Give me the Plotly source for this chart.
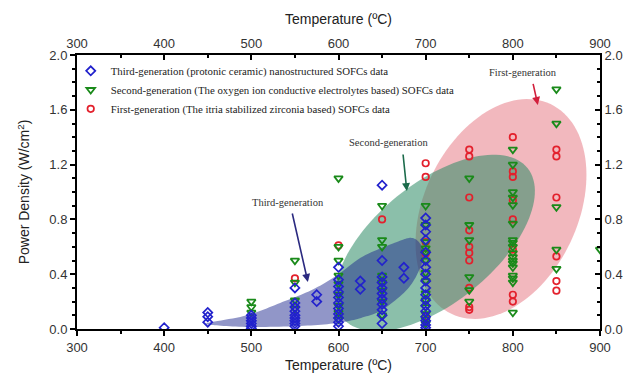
import numpy as np
import plotly.graph_objects as go

# ---------------- data (temperature °C -> power densities W/cm2) ----------------
third_gen = {
    400: [0.01],
    450: [0.05, 0.09, 0.12],
    500: [0.005, 0.02, 0.04, 0.06, 0.08, 0.10],
    550: [0.02, 0.04, 0.06, 0.08, 0.10, 0.13, 0.16, 0.19, 0.30],
    575: [0.20, 0.25],
    600: [0.02, 0.05, 0.08, 0.11, 0.15, 0.19, 0.23, 0.27, 0.31, 0.36, 0.45],
    625: [0.29, 0.35],
    650: [0.04, 0.10, 0.14, 0.18, 0.22, 0.26, 0.30, 0.34, 0.38, 0.50, 1.05],
    675: [0.37, 0.45],
    700: [0.01, 0.03, 0.06, 0.09, 0.13, 0.17, 0.21, 0.25, 0.30, 0.35, 0.40,
          0.45, 0.50, 0.56, 0.65, 0.71, 0.76, 0.81],
}
second_gen = {
    500: [0.12, 0.16, 0.20],
    550: [0.15, 0.21, 0.34, 0.50],
    600: [0.07, 0.12, 0.17, 0.25, 0.33, 0.39, 0.50, 0.60, 1.10],
    650: [0.10, 0.20, 0.28, 0.34, 0.39, 0.60, 0.65, 0.90],
    700: [0.04, 0.07, 0.11, 0.16, 0.21, 0.26, 0.35, 0.41, 0.50, 0.56, 0.59,
          0.635, 0.76, 0.90],
    750: [0.20, 0.285, 0.38, 0.65, 0.76, 1.10],
    800: [0.12, 0.34, 0.37, 0.39, 0.45, 0.48, 0.50, 0.525, 0.555, 0.60, 0.63,
          0.65, 0.77, 0.905, 0.96, 1.00, 1.20, 1.31],
    850: [0.44, 0.58, 0.89, 1.50, 1.75],
    900: [0.58],
}
first_gen = {
    550: [0.37],
    600: [0.61],
    650: [0.80],
    700: [0.09, 0.55, 0.635, 1.11, 1.21],
    750: [0.14, 0.16, 0.30, 0.50, 0.555, 0.60, 0.72, 0.96, 1.26, 1.31],
    800: [0.20, 0.25, 0.58, 0.80, 0.94, 1.11, 1.15, 1.40],
    850: [0.28, 0.35, 0.53, 0.96, 1.26, 1.31],
}

x_ticks = [300, 400, 500, 600, 700, 800, 900]
y_ticks = [0.0, 0.4, 0.8, 1.2, 1.6, 2.0]
y_tick_labels = ["0.0", "0.4", "0.8", "1.2", "1.6", "2.0"]

names = [
    "Third-generation (protonic ceramic) nanostructured SOFCs data",
    "Second-generation (The oxygen ion conductive electrolytes based) SOFCs data",
    "First-generation (The itria stabilized zirconia based) SOFCs data",
]


def flatten(cols):
    xs, ys = [], []
    for t, vals in cols.items():
        xs += [t] * len(vals)
        ys += vals
    return xs, ys


# ---------------- geometry helpers for the highlight regions ----------------
W, H = 632, 380
ML, MR, MT, MB = 77, 32, 55, 51
PW, PH = W - ML - MR, H - MT - MB
XR, YR = (300, 900), (0, 2)
sx = PW / (XR[1] - XR[0])   # px per °C
sy = PH / (YR[1] - YR[0])   # px per W/cm2


def ellipse_path(cx, cy, a_px, b_px, ang_deg, n=120):
    th = np.radians(ang_deg)
    t = np.linspace(0, 2 * np.pi, n, endpoint=False)
    dx = a_px * np.cos(t) * np.cos(th) - b_px * np.sin(t) * np.sin(th)
    dy = a_px * np.cos(t) * np.sin(th) + b_px * np.sin(t) * np.cos(th)
    xs = cx + dx / sx
    ys = cy + dy / sy
    pts = [f"{x:.3f},{y:.4f}" for x, y in zip(xs, ys)]
    return "M " + " L ".join(pts) + " Z"


def smooth_closed_path(pts, n=12):
    pts = np.array(pts, dtype=float)
    m = len(pts)
    out = []
    for i in range(m):
        p0, p1, p2, p3 = pts[(i - 1) % m], pts[i], pts[(i + 1) % m], pts[(i + 2) % m]
        for t in np.linspace(0, 1, n, endpoint=False):
            t2, t3 = t * t, t * t * t
            p = 0.5 * ((2 * p1) + (-p0 + p2) * t + (2 * p0 - 5 * p1 + 4 * p2 - p3) * t2
                       + (-p0 + 3 * p1 - 3 * p2 + p3) * t3)
            out.append(p)
    return "M " + " L ".join(f"{x:.3f},{y:.4f}" for x, y in out) + " Z"


third_region = [(450, 0.044), (495, 0.10), (533, 0.19), (571, 0.29), (600, 0.40),
                (628, 0.53), (667, 0.635), (684, 0.665), (694, 0.62), (697, 0.55),
                (694, 0.45), (679, 0.29), (650, 0.14), (628, 0.085), (600, 0.045),
                (556, 0.022), (498, 0.015), (458, 0.028)]

shapes = [
    dict(type="path", xref="x", yref="y", layer="below", line=dict(width=0),
         fillcolor="rgba(226,98,111,0.45)",
         path=ellipse_path(786.4, 0.876, 116, 77, 64.7)),
    dict(type="path", xref="x", yref="y", layer="below", line=dict(width=0),
         fillcolor="rgba(44,139,100,0.55)",
         path=ellipse_path(710.7, 0.628, 119, 60, 39)),
    dict(type="path", xref="x", yref="y", layer="below", line=dict(width=0),
         fillcolor="rgba(25,35,140,0.48)",
         path=smooth_closed_path(third_region)),
]

fig = go.Figure()

x1, y1 = flatten(first_gen)
x2, y2 = flatten(second_gen)
x3, y3 = flatten(third_gen)

fig.add_trace(go.Scatter(x=x1, y=y1, mode="markers", name=names[2],
                         marker=dict(symbol="circle-open", size=6.5, color="#e3202c",
                                     line=dict(width=1.7, color="#e3202c"))))
fig.add_trace(go.Scatter(x=x2, y=y2, mode="markers", name=names[1],
                         marker=dict(symbol="triangle-down-open", size=7.5, color="#1a8a1a",
                                     line=dict(width=1.8, color="#1a8a1a"))))
fig.add_trace(go.Scatter(x=x3, y=y3, mode="markers", name=names[0],
                         marker=dict(symbol="diamond-open", size=7, color="#2222cc",
                                     line=dict(width=1.7, color="#2222cc"))))
# invisible trace to carry the mirrored top/right axes
fig.add_trace(go.Scatter(x=[300, 900], y=[0, 2], xaxis="x2", yaxis="y2", mode="markers",
                         marker=dict(opacity=0), showlegend=False, hoverinfo="skip"))

serif = "Liberation Serif, Times New Roman, serif"
sans = "Liberation Sans, Arial, sans-serif"

annotations = []
# labels + arrows
arrows = [
    ("Third-generation", 542, 0.92, 546.6, 0.854, 564.9, 0.343, "#2b2a80"),
    ("Second-generation", 657, 1.36, 673.9, 1.285, 678.4, 1.007, "#1b6b4b"),
    ("First-generation", 811.5, 1.87, 822.9, 1.80, 828.7, 1.635, "#d21f3c"),
]
for txt, tx, ty, ax_, ay_, hx, hy, col in arrows:
    annotations.append(dict(x=tx, y=ty, xref="x", yref="y", text=txt, showarrow=False,
                            font=dict(family=serif, size=10.5, color="#333")))
    annotations.append(dict(x=hx, y=hy, ax=ax_, ay=ay_, xref="x", yref="y",
                            axref="x", ayref="y", text="", showarrow=True,
                            arrowhead=2, arrowsize=1, arrowwidth=1.6, arrowcolor=col))

axis_common = dict(showline=True, linewidth=2, linecolor="black", showgrid=False,
                   zeroline=False, tickwidth=1.5, tickcolor="black", automargin=False,
                   tickfont=dict(family=sans, size=13, color="#333"))

title_font = dict(family=sans, size=14, color="#222")

fig.update_layout(
    width=W, height=H,
    margin=dict(l=ML, r=MR, t=MT, b=MB),
    paper_bgcolor="white", plot_bgcolor="white",
    shapes=shapes,
    annotations=annotations,
    showlegend=True,
    legend=dict(x=-0.012, y=0.995, xanchor="left", yanchor="top",
                bgcolor="rgba(0,0,0,0)", traceorder="reversed",
                font=dict(family=serif, size=10.8, color="#222"),
                itemwidth=30, tracegroupgap=0),
    xaxis=dict(range=list(XR), tickvals=x_ticks, ticks="outside", ticklen=5,
               minor=dict(dtick=50, ticks="outside", ticklen=3, tickcolor="black", tickwidth=1.5),
               title=dict(text="Temperature (ºC)", font=title_font, standoff=7),
               **axis_common),
    yaxis=dict(range=list(YR), tickvals=y_ticks, ticktext=y_tick_labels, ticks="outside",
               ticklen=5,
               minor=dict(dtick=0.1, ticks="outside", ticklen=3, tickcolor="black", tickwidth=1.5),
               title=dict(text="Power Density (W/cm<sup>2</sup>)", font=title_font, standoff=16),
               **axis_common),
    xaxis2=dict(range=list(XR), tickvals=x_ticks, overlaying="x", side="top", anchor="y",
                ticks="inside", ticklen=5,
                minor=dict(dtick=50, ticks="inside", ticklen=3, tickcolor="black", tickwidth=1.5),
                title=dict(text="Temperature (ºC)", font=title_font, standoff=8),
                **axis_common),
    yaxis2=dict(range=list(YR), tickvals=y_ticks, ticktext=y_tick_labels, overlaying="y",
                side="right", anchor="x", ticks="inside", ticklen=5,
                minor=dict(dtick=0.1, ticks="inside", ticklen=3, tickcolor="black", tickwidth=1.5),
                **axis_common),
)

# remove the browser's default page margin so the figure sits at the window origin
fig.write_html("out.html", config={"displayModeBar": False},
               post_script="document.body.style.margin='0px';")
